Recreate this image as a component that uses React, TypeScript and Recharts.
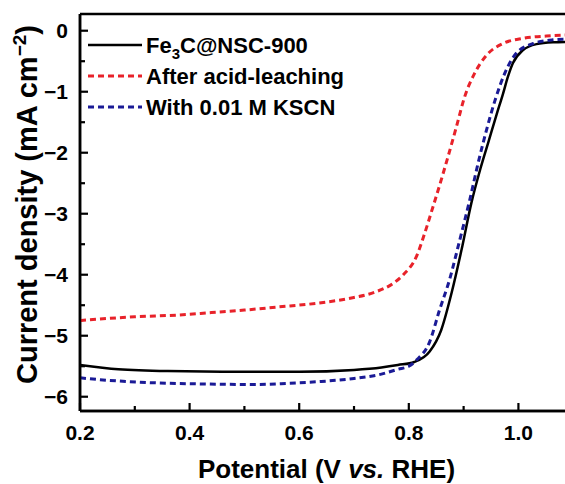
import React from 'react';
import { LineChart, Line, XAxis, YAxis, ReferenceLine } from 'recharts';

const fe3cX = [0.2, 0.27, 0.36, 0.48, 0.6, 0.7, 0.75, 0.78, 0.81, 0.838, 0.859, 0.878, 0.896, 0.914, 0.931, 0.946, 0.96, 0.972, 0.981, 0.99, 1.008, 1.033, 1.063, 1.085];
const fe3cY = [-5.48, -5.55, -5.58, -5.59, -5.59, -5.56, -5.52, -5.48, -5.43, -5.26, -4.91, -4.3, -3.6, -2.83, -2.25, -1.8, -1.38, -1.03, -0.75, -0.53, -0.32, -0.22, -0.19, -0.185];

const acidX = [0.2, 0.3, 0.38, 0.44, 0.5, 0.56, 0.63, 0.69, 0.74, 0.77, 0.79, 0.814, 0.829, 0.844, 0.859, 0.872, 0.887, 0.902, 0.92, 0.942, 0.972, 1.008, 1.051, 1.085];
const acidY = [-4.75, -4.69, -4.66, -4.62, -4.58, -4.53, -4.47, -4.39, -4.28, -4.15, -4.0, -3.7, -3.32, -2.89, -2.45, -2.05, -1.57, -1.08, -0.7, -0.4, -0.21, -0.125, -0.087, -0.07];

const kscnX = [0.2, 0.25, 0.33, 0.42, 0.52, 0.58, 0.64, 0.7, 0.75, 0.78, 0.8, 0.814, 0.838, 0.856, 0.874, 0.893, 0.911, 0.927, 0.942, 0.957, 0.975, 0.996, 1.027, 1.063, 1.085];
const kscnY = [-5.69, -5.73, -5.77, -5.79, -5.8, -5.78, -5.75, -5.7, -5.63, -5.55, -5.5, -5.4, -5.1, -4.58, -4.09, -3.43, -2.78, -2.15, -1.62, -1.15, -0.7, -0.37, -0.21, -0.15, -0.14];

const xTicks = [0.2, 0.3, 0.4, 0.5, 0.6, 0.7, 0.8, 0.9, 1.0];
const xMajor = [0.2, 0.4, 0.6, 0.8, 1.0];
const yTicks = [0, -0.5, -1, -1.5, -2, -2.5, -3, -3.5, -4, -4.5, -5, -5.5, -6];
const yMajor = [0, -1, -2, -3, -4, -5, -6];

const X_DOMAIN: [number, number] = [0.2, 1.085];
const Y_DOMAIN: [number, number] = [-6.234, 0.274];

const seriesNames = ['Fe3C@NSC-900', 'After acid-leaching', 'With 0.01 M KSCN'];
const colors = ['#000000', '#e8222a', '#1a1a96'];

const toPoints = (xs: number[], ys: number[]) => xs.map((x, i) => ({ x, y: ys[i] }));
const fe3cData = toPoints(fe3cX, fe3cY);
const acidData = toPoints(acidX, acidY);
const kscnData = toPoints(kscnX, kscnY);

const FONT = '"Liberation Sans", Arial, sans-serif';
const W = 565;
const H = 484;
const MARGIN = { top: 14, right: 0, bottom: 0, left: 0 };
const Y_AXIS_W = 80;
const X_AXIS_H = 73;
const TICK_MARGIN = 12;
const MAJOR_LEN = 8;
const MINOR_LEN = 5;

const PLOT = {
  left: MARGIN.left + Y_AXIS_W,
  top: MARGIN.top,
  width: W - MARGIN.left - MARGIN.right - Y_AXIS_W,
  height: H - MARGIN.top - MARGIN.bottom - X_AXIS_H,
};
const tickX = (v: number) => PLOT.left + ((v - X_DOMAIN[0]) / (X_DOMAIN[1] - X_DOMAIN[0])) * PLOT.width;
const tickY = (v: number) => PLOT.top + ((Y_DOMAIN[1] - v) / (Y_DOMAIN[1] - Y_DOMAIN[0])) * PLOT.height;

const isIn = (arr: number[], v: number) => arr.some((m) => Math.abs(m - v) < 1e-9);
const fmtNum = (v: number) => (v < 0 ? '\u2212' + Math.abs(v) : String(v));

const YTick = (props: any) => {
  const x = Number(props.x);
  const y = Number(props.y);
  const v = Number(props.payload.value);
  if (!isIn(yMajor, v)) return <g />;
  return (
    <text x={x} y={y} dy={7.5} textAnchor="end" fontFamily={FONT} fontWeight="bold" fontSize={21} fill="#000">
      {fmtNum(v)}
    </text>
  );
};

const XTick = (props: any) => {
  const x = Number(props.x);
  const y = Number(props.y);
  const v = Number(props.payload.value);
  if (!isIn(xMajor, v)) return <g />;
  return (
    <text x={x} y={y - TICK_MARGIN + 29} textAnchor="middle" fontFamily={FONT} fontWeight="bold" fontSize={21} fill="#000">
      {v.toFixed(1)}
    </text>
  );
};

const XTitle = (props: any) => {
  const vb = props.viewBox || { x: 0, y: 0, width: 0, height: 0 };
  return (
    <text x={vb.x + vb.width / 2 + 4} y={vb.y + 67} textAnchor="middle" fontFamily={FONT} fontWeight="bold" fontSize={26} fill="#000">
      Potential (V <tspan fontStyle="italic">vs.</tspan> RHE)
    </text>
  );
};

const YTitle = (props: any) => {
  const vb = props.viewBox || { x: 0, y: 0, width: 0, height: 0 };
  const cx = vb.x + 37;
  const cy = vb.y + vb.height / 2 - 8;
  return (
    <text x={cx} y={cy} transform={`rotate(-90, ${cx}, ${cy})`} textAnchor="middle" fontFamily={FONT} fontWeight="bold" fontSize={29} fill="#000">
      Current density (mA cm<tspan dy={-11} fontSize={19}>{'\u2212'}2</tspan><tspan dy={11}>)</tspan>
    </text>
  );
};

// inward tick marks (major + minor), drawn on top of the chart
const TickMarks = () => (
  <svg width={W} height={H} style={{ position: 'absolute', left: 0, top: 0, pointerEvents: 'none' }}>
    {yTicks.map((v) => {
      const y = tickY(v);
      const len = isIn(yMajor, v) ? MAJOR_LEN : MINOR_LEN;
      return <line key={'y' + v} x1={PLOT.left} x2={PLOT.left + len} y1={y} y2={y} stroke="#000" strokeWidth={2.2} />;
    })}
    {xTicks.map((v) => {
      const x = tickX(v);
      const len = isIn(xMajor, v) ? MAJOR_LEN : MINOR_LEN;
      const yb = PLOT.top + PLOT.height;
      return <line key={'x' + v} x1={x} x2={x} y1={yb} y2={yb - len} stroke="#000" strokeWidth={2.2} />;
    })}
  </svg>
);

const LegendBox = () => {
  const rowH = 31;
  return (
    <svg width={300} height={100} style={{ position: 'absolute', left: 88, top: 31, display: 'block' }}>
      {seriesNames.map((name, i) => {
        const cy = 14 + i * rowH;
        return (
          <g key={name}>
            <line x1={0} x2={54} y1={cy} y2={cy} stroke={colors[i]} strokeWidth={i === 0 ? 2.5 : 3} strokeDasharray={i === 0 ? undefined : '6 4'} />
            <text x={58} y={cy + 8} fontFamily={FONT} fontWeight="bold" fontSize={22} fill="#000">
              {i === 0 ? (
                <>
                  Fe<tspan dy={6} fontSize={15}>3</tspan>
                  <tspan dy={-6}>C@NSC-900</tspan>
                </>
              ) : (
                name
              )}
            </text>
          </g>
        );
      })}
    </svg>
  );
};

export default function App() {
  return (
    <div style={{ position: 'absolute', left: 0, top: 0, width: W, height: H, background: '#fff' }}>
      <LineChart width={W} height={H} margin={MARGIN}>
        <XAxis
          xAxisId="main"
          dataKey="x"
          type="number"
          domain={X_DOMAIN}
          allowDataOverflow
          ticks={xTicks}
          interval={0}
          height={X_AXIS_H}
          stroke="#000"
          tickLine={false}
          tickSize={0}
          tickMargin={TICK_MARGIN}
          tick={<XTick />}
          axisLine={{ stroke: '#000', strokeWidth: 2.5 }}
          label={<XTitle />}
        />
        <YAxis
          yAxisId="main"
          type="number"
          domain={Y_DOMAIN}
          allowDataOverflow
          ticks={yTicks}
          interval={0}
          width={Y_AXIS_W}
          stroke="#000"
          tickLine={false}
          tickSize={0}
          tickMargin={TICK_MARGIN}
          tick={<YTick />}
          axisLine={{ stroke: '#000', strokeWidth: 2.5 }}
          label={<YTitle />}
        />
        <ReferenceLine xAxisId="main" yAxisId="main" x={X_DOMAIN[0]} stroke="#000" strokeWidth={2.5} ifOverflow="visible" />
        <ReferenceLine xAxisId="main" yAxisId="main" y={Y_DOMAIN[0]} stroke="#000" strokeWidth={2.5} ifOverflow="visible" />
        <ReferenceLine xAxisId="main" yAxisId="main" y={Y_DOMAIN[1]} stroke="#000" strokeWidth={2.5} ifOverflow="visible" />
        <Line xAxisId="main" yAxisId="main" data={fe3cData} dataKey="y" name={seriesNames[0]} type="monotone" stroke={colors[0]} strokeWidth={2.5} dot={false} isAnimationActive={false} />
        <Line xAxisId="main" yAxisId="main" data={acidData} dataKey="y" name={seriesNames[1]} type="monotone" stroke={colors[1]} strokeWidth={3} strokeDasharray="6 4" dot={false} isAnimationActive={false} />
        <Line xAxisId="main" yAxisId="main" data={kscnData} dataKey="y" name={seriesNames[2]} type="monotone" stroke={colors[2]} strokeWidth={3} strokeDasharray="6 4" dot={false} isAnimationActive={false} />
      </LineChart>
      <TickMarks />
      <LegendBox />
    </div>
  );
}
